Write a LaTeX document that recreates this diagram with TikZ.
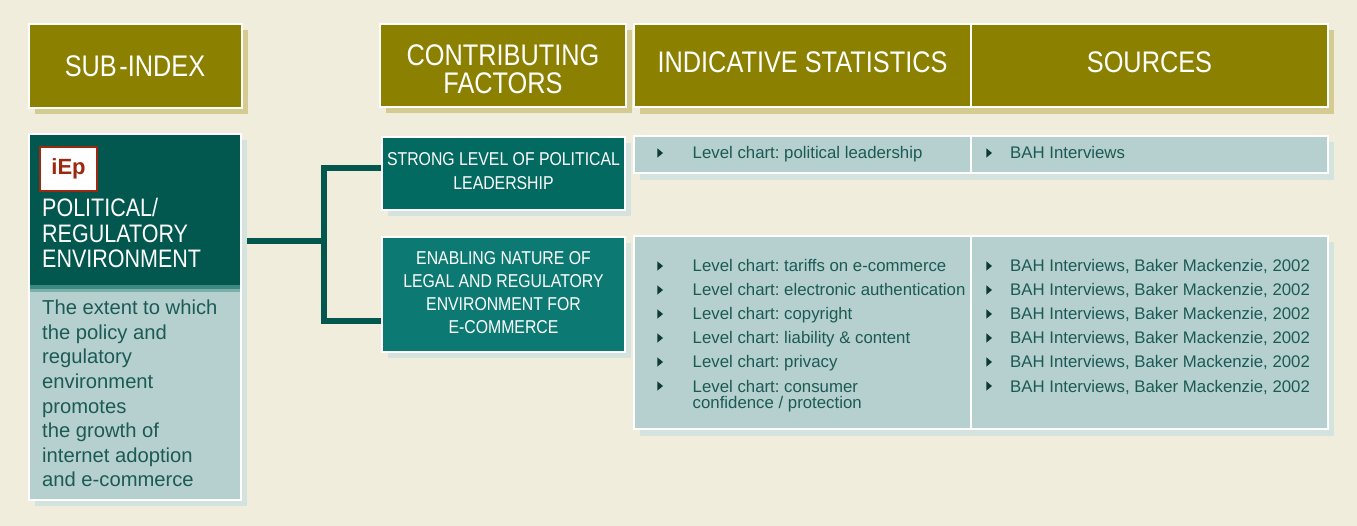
\documentclass[tikz,border=0pt]{standalone}
\usepackage{fontspec}
\setmainfont{Liberation Sans}
\newfontfamily\condf[FakeStretch=0.85]{Liberation Sans}
\usetikzlibrary{shadows}
\definecolor{bgc}{RGB}{241,237,220}
\definecolor{olive}{RGB}{140,128,0}
\definecolor{oshadow}{RGB}{211,203,146}
\definecolor{dteal}{RGB}{2,87,79}
\definecolor{tealA}{RGB}{3,106,98}
\definecolor{tealB}{RGB}{12,122,115}
\definecolor{midteal}{RGB}{62,136,128}
\definecolor{lmteal}{RGB}{122,175,170}
\definecolor{lpanel}{RGB}{181,208,207}
\definecolor{pshadow}{RGB}{213,227,223}
\definecolor{txteal}{RGB}{28,90,84}
\definecolor{bulc}{RGB}{14,58,54}
\definecolor{iepred}{RGB}{155,40,15}
\pgfdeclarelayer{back}
\pgfsetlayers{back,main}
\tikzset{
  box/.style={anchor=north west, inner sep=0pt, outer sep=0pt},
  hdr/.style={box, fill=olive, draw=white, line width=2.5pt,
    drop shadow={shadow xshift=6pt, shadow yshift=-6pt, fill=oshadow, opacity=1}},
  hdrtxt/.style={text=white, font=\condf\fontsize{29.8}{29.8}\selectfont, align=center},
  panel/.style={box, fill=lpanel, draw=white, line width=2pt},
  pshad/.style={drop shadow={shadow xshift=6pt, shadow yshift=-6pt, fill=pshadow, opacity=1}},
  fbox/.style={box, draw=white, line width=2pt, minimum width=243pt,
    drop shadow={shadow xshift=6pt, shadow yshift=-6pt, fill=pshadow, opacity=1}},
  ftxt/.style={text=white, font=\condf\fontsize{18.6}{18.6}\selectfont, anchor=base},
  ttl/.style={text=white, font=\condf\fontsize{25.3}{25.3}\selectfont, anchor=base west, inner sep=0pt},
  dsc/.style={text=txteal, font=\fontsize{20.2}{20.2}\selectfont, anchor=base west, inner sep=0pt},
  stt/.style={text=txteal, font=\fontsize{16.8}{16.8}\selectfont, anchor=base west, inner sep=0pt},
  conn/.style={draw=dteal, line width=6pt, line join=miter},
  bul/.pic={\fill[bulc] (-2.6,-4.6) -- (3,0) -- (-2.6,4.6) -- cycle;}
}
\begin{document}
\frenchspacing
\begin{tikzpicture}[x=1pt,y=-1pt]
\begin{pgfonlayer}{back}
\fill[bgc] (0,0) rectangle (1357,526);
\end{pgfonlayer}
\useasboundingbox (0,0) rectangle (1357,526);

% headers
\node[hdr, minimum width=213pt, minimum height=84pt] (hsub) at (29,24) {};
\node[hdrtxt] (tsub) at (135,66) {SUB{\kern2.5pt}-INDEX};
\node[hdr, minimum width=246pt, minimum height=83pt] (hcon) at (380,24) {};
\node[hdrtxt, text depth=0pt] (tcon) at (503,69) {CONTRIBUTING\\[-1.5pt]FACTORS};
\fill[oshadow] (640,107) rectangle (1334,114);
\fill[oshadow] (1328,30) rectangle (1334,114);
\node[box, fill=olive, draw=white, line width=2.5pt, minimum width=337pt, minimum height=83pt] (hind) at (634,24) {};
\node[box, fill=olive, draw=white, line width=2.5pt, minimum width=357pt, minimum height=83pt] (hsrc) at (971,24) {};
\node[hdrtxt] (tind) at (hind.center) [yshift=3.5pt] {INDICATIVE STATISTICS};
\node[hdrtxt] (tsrc) at (hsrc.center) [yshift=3.5pt] {SOURCES};

% sub-index panel
\node[panel, pshad, minimum width=212pt, minimum height=366pt] (sp) at (29,134) {};
\node[box, fill=dteal, minimum width=210pt, minimum height=151pt] (spt) at (30,135) {};
\fill[midteal] (30,285) rectangle (240,289.3);
\fill[lmteal] (30,289.3) rectangle (240,292);
\node[box, fill=white, draw=iepred, line width=2pt, minimum width=57pt, minimum height=44pt,
  font=\bfseries\fontsize{22}{22}\selectfont, text=iepred] (iep) at (40,147) {iEp};
\node[ttl] (t1) at (42,217) {POLITICAL/};
\node[ttl] (t2) at (42,242.5) {REGULATORY};
\node[ttl] (t3) at (42,268) {ENVIRONMENT};
\foreach \l/\s [count=\i] in {0/The extent to which,1/the policy and,2/regulatory,3/environment,4/promotes,5/the growth of,6/internet adoption,7/and e-commerce}
  \node[dsc] (d\i) at (42,315+24.5*\l) {\s};

% contributing factors
\node[fbox, fill=tealA, minimum height=73pt] (f1) at (382,137) {};
\node[ftxt] (f1a) at (503.5,166) {STRONG LEVEL OF POLITICAL};
\node[ftxt] (f1b) at (503.5,190) {LEADERSHIP};
\node[fbox, fill=tealB, minimum height=115pt] (f2) at (382,237) {};
\node[ftxt] (f2a) at (503.5,265) {ENABLING NATURE OF};
\node[ftxt] (f2b) at (503.5,288) {LEGAL AND REGULATORY};
\node[ftxt] (f2c) at (503.5,311) {ENVIRONMENT FOR};
\node[ftxt] (f2d) at (503.5,334) {E-COMMERCE};

% connectors
\path (spt.east) ++(0,30.5) coordinate (c0);
\path (f1.west) ++(0,-5) coordinate (c1);
\path (f2.west) ++(0,26.5) coordinate (c2);
\coordinate (cm) at (323.7,241);
\begin{pgfonlayer}{back}
\draw[conn] (c0) -- (cm);
\draw[conn] (c1) -| (cm) |- (c2);
\end{pgfonlayer}

% statistics rows
\fill[pshadow] (640,173) rectangle (1334,180);
\fill[pshadow] (1328,142) rectangle (1334,180);
\node[panel, minimum width=337pt, minimum height=37pt] (s1) at (634,136) {};
\node[panel, minimum width=357pt, minimum height=37pt] (r1) at (971,136) {};
\pic at (660,153) {bul};
\node[stt] (s1a) at (692.5,159) {Level chart: political leadership};
\pic at (989,153) {bul};
\node[stt] (r1a) at (1010,159) {BAH Interviews};

\fill[pshadow] (640,429) rectangle (1334,436);
\fill[pshadow] (1328,242) rectangle (1334,436);
\node[panel, minimum width=337pt, minimum height=193pt] (s2) at (634,236) {};
\node[panel, minimum width=357pt, minimum height=193pt] (r2) at (971,236) {};
\foreach \l/\s [count=\i] in {0/tariffs on e-commerce,1/electronic authentication,2/copyright,3/liability \& content,4/privacy,5/consumer}{
  \pic at (660,266+24*\l) {bul};
  \node[stt] (sl\i) at (692.5,272+24*\l) {Level chart: \s};
  \pic at (989,266+24*\l) {bul};
  \node[stt] (rl\i) at (1010,272+24*\l) {BAH Interviews, Baker Mackenzie, 2002};
}
\node[stt] (sl7) at (692.5,408) {confidence / protection};
\end{tikzpicture}
\end{document}
